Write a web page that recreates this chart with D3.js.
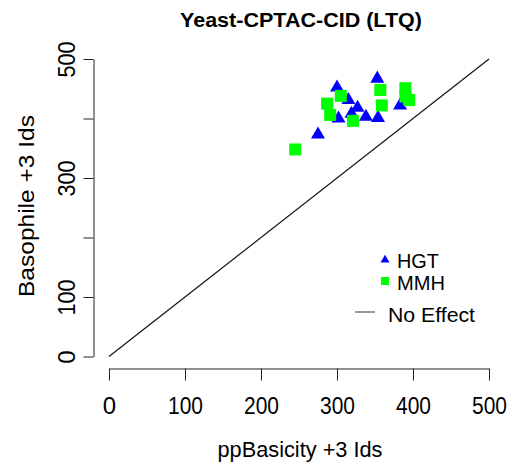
<!DOCTYPE html>
<html>
<head>
<meta charset="utf-8">
<script src="https://cdn.jsdelivr.net/npm/d3@7"></script>
<style>
  html, body { margin: 0; padding: 0; background: #fff; }
  svg { display: block; font-family: "Liberation Sans", Arial, Helvetica, sans-serif; }
</style>
</head>
<body>
<svg id="chart" width="514" height="466"></svg>
<script>
// Peptide identifications: ppBasicity vs Basophile (+3 ions)
const hgtX = [275, 300, 315, 327, 319, 302, 338, 354, 353, 383];
const hgtY = [373, 452, 431, 418, 408, 400, 403, 401, 467, 422];
const mmhX = [245, 287, 291, 305, 321, 357, 359, 390, 390, 395];
const mmhY = [348, 425, 406, 438, 396, 448, 422, 451, 437, 431];

const xTicks = [0, 100, 200, 300, 400, 500];
const yTicks = [0, 100, 200, 300, 400, 500];
const yLabelled = [0, 100, 300, 500];
const legendLabels = ["HGT", "MMH", "No Effect"];
const titleText = "Yeast-CPTAC-CID (LTQ)";
const xTitle = "ppBasicity +3 Ids";
const yTitle = "Basophile +3 Ids";

const svg = d3.select("#chart");
const x = d3.scaleLinear().domain([0, 500]).range([109, 489]);
const y = d3.scaleLinear().domain([0, 500]).range([356.5, 59]);

// title
svg.append("text")
  .attr("x", 301).attr("y", 27)
  .attr("text-anchor", "middle")
  .attr("font-weight", "bold").attr("font-size", 19.5)
  .attr("textLength", 242).attr("lengthAdjust", "spacingAndGlyphs")
  .text(titleText);

// x axis
const gx = svg.append("g")
  .attr("transform", "translate(0,368.5)")
  .call(d3.axisBottom(x).tickValues(xTicks).tickSize(12).tickSizeOuter(0));
gx.select(".domain").attr("stroke", "#222");
gx.selectAll(".tick line").attr("stroke", "#222");
gx.selectAll(".tick text")
  .attr("y", 45).attr("dy", 0)
  .attr("font-size", 24).attr("fill", "#000")
  .attr("font-family", "Liberation Sans, Arial, sans-serif")
  .each(function(d) {
    const s = String(d);
    if (s.length > 1) d3.select(this).attr("textLength", 35).attr("lengthAdjust", "spacingAndGlyphs");
  });

// y axis
const gy = svg.append("g")
  .attr("transform", "translate(93.5,0)")
  .call(d3.axisLeft(y).tickValues(yTicks).tickSize(10).tickSizeOuter(0)
    .tickFormat(d => yLabelled.includes(d) ? String(d) : ""));
gy.select(".domain").attr("stroke", "#222");
gy.selectAll(".tick line").attr("stroke", "#222");
gy.selectAll(".tick text")
  .attr("x", 0).attr("dy", 0).attr("y", 0)
  .attr("text-anchor", "middle")
  .attr("font-size", 24).attr("fill", "#000")
  .attr("font-family", "Liberation Sans, Arial, sans-serif")
  .attr("transform", "translate(-19,0) rotate(-90)")
  .each(function(d) {
    if (String(d).length > 1) d3.select(this).attr("textLength", 36).attr("lengthAdjust", "spacingAndGlyphs");
  });

// axis titles
svg.append("text")
  .attr("x", 300).attr("y", 457)
  .attr("text-anchor", "middle").attr("font-size", 22)
  .attr("textLength", 165).attr("lengthAdjust", "spacingAndGlyphs")
  .text(xTitle);
svg.append("text")
  .attr("transform", "translate(34,206) rotate(-90)")
  .attr("text-anchor", "middle").attr("font-size", 22)
  .attr("textLength", 182).attr("lengthAdjust", "spacingAndGlyphs")
  .text(yTitle);

// no-effect diagonal
svg.append("line")
  .attr("x1", x(0)).attr("y1", y(0))
  .attr("x2", x(500)).attr("y2", y(500))
  .attr("stroke", "#111").attr("stroke-width", 1.2);

// HGT triangles
const tri = d3.symbol().type(d3.symbolTriangle).size(Math.sqrt(3) / 4 * 14 * 14);
svg.append("g").selectAll("path")
  .data(hgtX.map((v, i) => [v, hgtY[i]]))
  .join("path")
  .attr("d", tri)
  .attr("transform", d => `translate(${x(d[0])},${y(d[1])})`)
  .attr("fill", "#0000ff");

// MMH squares
const sq = 12;
svg.append("g").selectAll("rect")
  .data(mmhX.map((v, i) => [v, mmhY[i]]))
  .join("rect")
  .attr("x", d => x(d[0]) - sq / 2).attr("y", d => y(d[1]) - sq / 2)
  .attr("width", sq).attr("height", sq)
  .attr("fill", "#00ff00");

// legend
const lg = svg.append("g");
const triSmall = d3.symbol().type(d3.symbolTriangle).size(Math.sqrt(3) / 4 * 9 * 9);
lg.append("path").attr("d", triSmall).attr("transform", "translate(385,260)").attr("fill", "#0000ff");
lg.append("rect").attr("x", 381).attr("y", 277).attr("width", 8).attr("height", 8).attr("fill", "#00ff00");
lg.append("line").attr("x1", 355).attr("x2", 375).attr("y1", 312).attr("y2", 312).attr("stroke", "#333");
const legendY = [268, 290, 322];
const legendW = [42, 48, 87];
const legendX = [397, 397, 388];
legendLabels.forEach((t, i) => {
  lg.append("text")
    .attr("x", legendX[i]).attr("y", legendY[i])
    .attr("font-size", 20)
    .attr("textLength", legendW[i]).attr("lengthAdjust", "spacingAndGlyphs")
    .text(t);
});
</script>
</body>
</html>
